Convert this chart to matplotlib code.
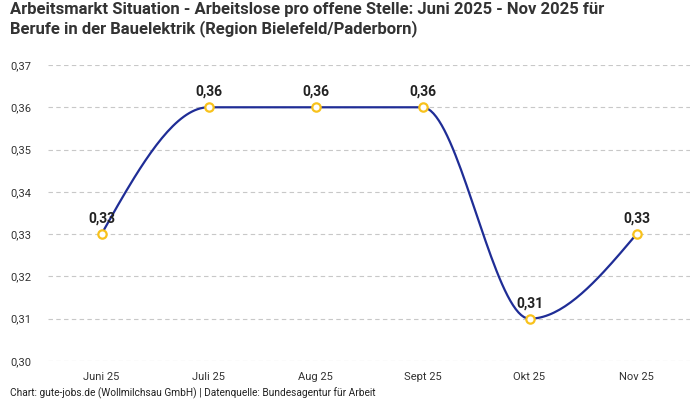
import numpy as np
import matplotlib
matplotlib.use("Agg")
import matplotlib.pyplot as plt
from matplotlib.ticker import FuncFormatter

plt.rcParams['font.family'] = ['Roboto', 'DejaVu Sans']

months = ['Juni 25', 'Juli 25', 'Aug 25', 'Sept 25', 'Okt 25', 'Nov 25']
values = [0.33, 0.36, 0.36, 0.36, 0.31, 0.33]

title = ('Arbeitsmarkt Situation - Arbeitslose pro offene Stelle: Juni 2025 - Nov 2025 für\n'
         'Berufe in der Bauelektrik (Region Bielefeld/Paderborn)')
footer = 'Chart: gute-jobs.de (Wollmilchsau GmbH) | Datenquelle: Bundesagentur für Arbeit'

line_color = '#1f2d96'
marker_color = '#f8c21c'


def monotone_curve(x, y, n=40):
    # monotone cubic hermite (like d3 curveMonotoneX)
    x = np.asarray(x, float)
    y = np.asarray(y, float)
    h = np.diff(x)
    s = np.diff(y) / h
    m = np.zeros_like(y)
    for i in range(1, len(y) - 1):
        if s[i - 1] * s[i] <= 0:
            m[i] = 0
        else:
            p = (s[i - 1] * h[i] + s[i] * h[i - 1]) / (h[i - 1] + h[i])
            m[i] = np.sign(s[i - 1]) * min(abs(s[i - 1]), abs(s[i]), 0.5 * abs(p)) * 2
    m[0] = (3 * s[0] - m[1]) / 2 if len(y) > 2 else s[0]
    m[-1] = (3 * s[-1] - m[-2]) / 2 if len(y) > 2 else s[-1]
    xs, ys = [], []
    for i in range(len(x) - 1):
        t = np.linspace(0, 1, n)
        h00 = 2 * t**3 - 3 * t**2 + 1
        h10 = t**3 - 2 * t**2 + t
        h01 = -2 * t**3 + 3 * t**2
        h11 = t**3 - t**2
        xs.append(x[i] + t * h[i])
        ys.append(h00 * y[i] + h10 * h[i] * m[i] + h01 * y[i + 1] + h11 * h[i] * m[i + 1])
    return np.concatenate(xs), np.concatenate(ys)


fig = plt.figure(figsize=(7, 4), dpi=100)
ax = fig.add_axes([48 / 700, 1 - 361 / 400, 642 / 700, 296 / 400])

xpos = np.arange(len(months))
cx, cy = monotone_curve(xpos, values)
ax.plot(cx, cy, color=line_color, lw=1.6, zorder=3)
ax.scatter(xpos, values, s=36, facecolor='white', edgecolor=marker_color,
           linewidth=1.6, zorder=4)

for xi, v in zip(xpos, values):
    ax.annotate(f'{v:.2f}'.replace('.', ','), (xi, v), xytext=(0, 6),
                textcoords='offset points', ha='center', va='bottom',
                fontsize=10, fontweight='bold', color='#222222', zorder=5)

ax.set_xlim(-0.5, len(months) - 0.5)
ax.set_ylim(0.30, 0.37)
ax.set_yticks(np.arange(0.30, 0.3701, 0.01))
ax.yaxis.set_major_formatter(FuncFormatter(lambda v, _: f'{v:.2f}'.replace('.', ',')))
ax.set_xticks(xpos)
ax.set_xticklabels(months)
ax.grid(axis='y', color='#c8c8c8', linestyle=(0, (4, 3)), lw=0.8)
ax.set_axisbelow(True)
for sp in ax.spines.values():
    sp.set_visible(False)
ax.tick_params(axis='both', length=0, labelsize=8, colors='#333333')
ax.tick_params(axis='x', pad=8)
ax.tick_params(axis='y', pad=27)
for lbl in ax.get_yticklabels():
    lbl.set_horizontalalignment('left')

fig.text(10 / 700, 1 - 2 / 400, title, ha='left', va='top', fontsize=12,
         fontweight='bold', color='#333333', linespacing=1.2)
fig.text(10 / 700, 1 - 393 / 400, footer, ha='left', va='center', fontsize=7.3,
         color='#222222')

fig.savefig('out.png', dpi=100)
